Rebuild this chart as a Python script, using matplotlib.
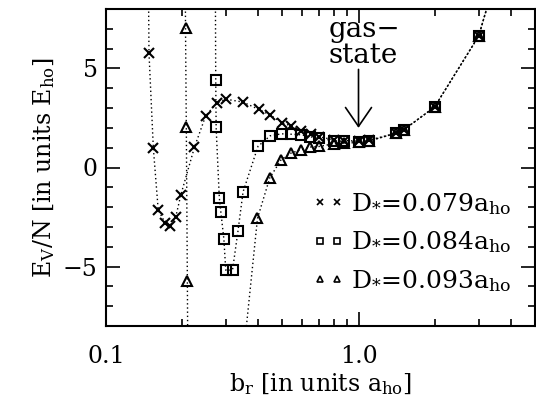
import matplotlib.pyplot as plt
from matplotlib.lines import Line2D
from matplotlib.ticker import MultipleLocator, FixedLocator, NullFormatter
import numpy as np

plt.rcParams["font.family"] = "DejaVu Serif"
plt.rcParams["mathtext.fontset"] = "dejavuserif"
plt.rcParams["font.size"] = 17

# D*=0.079 a_ho (crosses)
x_079 = [0.145, 0.148, 0.154, 0.161, 0.172, 0.179, 0.189, 0.198, 0.224, 0.248,
         0.274, 0.298, 0.349, 0.403, 0.447, 0.499, 0.54, 0.593, 0.646, 0.697,
         0.80, 0.88, 1.0, 1.1, 1.41, 1.51, 2.0, 2.99, 4.0]
y_079 = [20.0, 5.77, 0.97, -2.15, -2.82, -2.95, -2.48, -1.37, 1.02, 2.6,
         3.25, 3.45, 3.3, 2.93, 2.65, 2.25, 2.1, 1.85, 1.68, 1.55,
         1.4, 1.36, 1.33, 1.38, 1.73, 1.9, 3.05, 6.63, 12.1]

# D*=0.084 a_ho (squares)
x_084 = [0.27, 0.272, 0.273, 0.281, 0.285, 0.293, 0.298, 0.317, 0.333, 0.349,
         0.40, 0.447, 0.496, 0.539, 0.593, 0.644, 0.697,
         0.80, 0.88, 1.0, 1.1, 1.41, 1.51, 2.0, 2.99, 4.0]
y_084 = [15.0, 4.4, 2.02, -1.52, -2.25, -3.62, -5.18, -5.18, -3.23, -1.23,
         1.07, 1.6, 1.7, 1.68, 1.65, 1.55, 1.48,
         1.35, 1.32, 1.3, 1.35, 1.73, 1.9, 3.05, 6.63, 12.1]

# D*=0.093 a_ho (triangles), None splits the two branches
x_093 = [0.205, 0.2065, 0.208, 0.210, 0.212, None,
         0.288, 0.398, 0.445, 0.494, 0.539, 0.593, 0.644, 0.697,
         0.80, 0.88, 1.0, 1.1, 1.41, 1.51, 2.0, 2.99, 4.0]
y_093 = [15.0, 7.02, 2.02, -5.73, -15.0, None,
         -20.0, -2.57, -0.53, 0.4, 0.72, 0.9, 1.03, 1.06,
         1.2, 1.22, 1.27, 1.33, 1.73, 1.9, 3.05, 6.63, 12.1]

labels = [r"D$_{*}$=0.079a$_{\mathrm{ho}}$",
          r"D$_{*}$=0.084a$_{\mathrm{ho}}$",
          r"D$_{*}$=0.093a$_{\mathrm{ho}}$"]


def to_arr(v):
    return np.array([np.nan if a is None else a for a in v], dtype=float)


fig = plt.figure(figsize=(5.36, 4.04), dpi=100)
ax = fig.add_axes([106 / 536, 1 - 326 / 404, 429 / 536, 317 / 404])

series = [(x_079, y_079, "x", "black"),
          (x_084, y_084, "s", "none"),
          (x_093, y_093, "^", "none")]
for xs, ys, mk, fc in series:
    xs, ys = to_arr(xs), to_arr(ys)
    ax.plot(xs, ys, ls=(0, (1, 2)), lw=1.0, color="black")
    ax.plot(xs, ys, ls="none", marker=mk, ms=6.5,
            mfc=fc, mec="black", mew=1.5)

ax.set_xscale("log")
ax.set_xlim(0.1, 5.0)
ax.set_ylim(-8, 8)

ax.xaxis.set_major_locator(FixedLocator([0.1, 1.0]))
ax.xaxis.set_minor_locator(FixedLocator([0.2, 0.3, 0.4, 0.5, 0.6, 0.7, 0.8, 0.9,
                                         2.0, 3.0, 4.0]))
ax.xaxis.set_minor_formatter(NullFormatter())
ax.set_xticklabels(["0.1", "1.0"])
ax.yaxis.set_major_locator(MultipleLocator(5))
ax.yaxis.set_minor_locator(MultipleLocator(1))

ax.tick_params(which="both", direction="in", top=True, right=True, width=1.2)
ax.tick_params(which="major", length=10, pad=14)
ax.tick_params(which="minor", length=5)
ax.tick_params(axis="y", which="major", pad=6)
for s in ax.spines.values():
    s.set_linewidth(1.5)

ax.set_xlabel(r"b$_{\mathrm{r}}$ [in units a$_{\mathrm{ho}}$]", labelpad=2)
ax.set_ylabel(r"E$_{\mathrm{V}}$/N [in units E$_{\mathrm{ho}}$]", labelpad=4)

ax.annotate("", xy=(1.0, 2.0), xytext=(1.0, 4.95),
            arrowprops=dict(arrowstyle="->,head_length=0.8,head_width=0.55",
                            lw=1.2, color="black", shrinkA=0, shrinkB=0))
ax.text(0.76, 4.95, "gas\u2212\nstate", ha="left", va="bottom",
        multialignment="left", linespacing=0.95, fontsize=20)

handles = [Line2D([], [], ls="none", marker="x", ms=5, mec="black", mew=1.2),
           Line2D([], [], ls="none", marker="s", ms=5, mfc="none", mec="black", mew=1.2),
           Line2D([], [], ls="none", marker="^", ms=5, mfc="none", mec="black", mew=1.2)]
ax.legend(handles, labels, numpoints=2, frameon=False, loc="lower right",
          bbox_to_anchor=(0.98, 0.055), handlelength=1.3, handletextpad=0.25,
          labelspacing=0.5, borderaxespad=0.2, fontsize=18)

fig.savefig("out.png", dpi=100)
